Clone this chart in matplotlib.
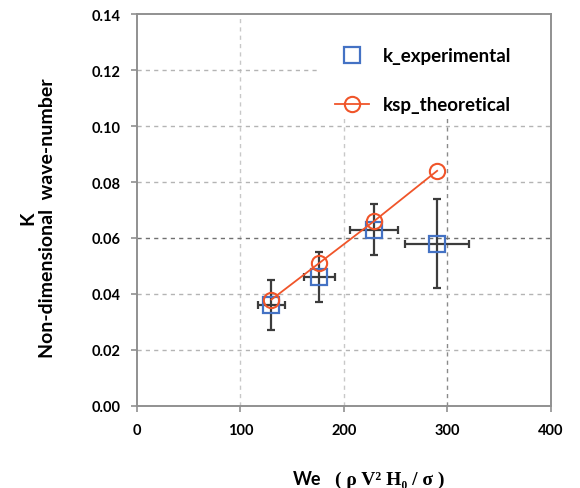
import matplotlib.pyplot as plt
from matplotlib.patches import Rectangle

# data
we_exp = [130, 176, 229, 290]
k_exp = [0.036, 0.046, 0.063, 0.058]
we_err = [13, 15, 23, 31]
k_err = [0.009, 0.009, 0.009, 0.016]

we_th = [130, 176, 229, 290]
ksp_th = [0.038, 0.051, 0.066, 0.084]

x_ticks = [0, 100, 200, 300, 400]
y_ticks = [0.00, 0.02, 0.04, 0.06, 0.08, 0.10, 0.12, 0.14]

plt.rcParams['font.family'] = ['Lato', 'DejaVu Sans']

fig = plt.figure(figsize=(5.8, 4.89), dpi=100)
ax = fig.add_axes([0.236, 0.168, 0.714, 0.801])

blue = '#4472C4'
red = '#F0552A'
grey = '#909090'

# grid
for x in [100, 200]:
    ax.axvline(x, color='#c8c8c8', ls=(0, (3, 3)), lw=1, zorder=0)
ax.axvline(300, color='#8a8a8a', ls=(0, (3, 3)), lw=1, zorder=0)
for y in [0.02, 0.04, 0.08, 0.10, 0.12]:
    ax.axhline(y, color='#b4b4b4', ls=(0, (3, 3)), lw=1, zorder=0)
ax.axhline(0.06, color='#707070', ls=(0, (3, 3)), lw=1, zorder=0)

# white legend area hiding the grid
ax.add_patch(Rectangle((0.442, 0.737), 0.56, 0.27, transform=ax.transAxes,
                       facecolor='white', edgecolor='none', zorder=1))

ax.errorbar(we_exp, k_exp, xerr=we_err, yerr=k_err, fmt='none',
            ecolor='#3c3c3c', elinewidth=1.6, capsize=3, capthick=1.6, zorder=2)
ax.plot(we_exp, k_exp, 's', ms=11, mfc='none', mec=blue, mew=1.6,
        label='k_experimental', zorder=3)
ax.plot(we_th, ksp_th, '-o', color=red, lw=1.3, ms=11, mfc='none', mec=red,
        mew=1.5, label='ksp_theoretical', zorder=4)

ax.set_xlim(0, 400)
ax.set_ylim(0, 0.14)
ax.set_xticks(x_ticks)
ax.set_yticks(y_ticks)
ax.set_yticklabels([f'{v:.2f}' for v in y_ticks])
ax.tick_params(direction='out', length=4, color=grey, width=1.2,
               labelsize=10.5, pad=8)
for lab in ax.get_xticklabels() + ax.get_yticklabels():
    lab.set_fontweight('bold')
for s in ax.spines.values():
    s.set_color(grey)
    s.set_linewidth(1.4)

leg = ax.legend(loc='upper left', bbox_to_anchor=(0.478, 0.915),
                prop={'weight': 'bold', 'size': 13.5}, frameon=False,
                labelspacing=1.7, handlelength=1.8, handletextpad=0.75,
                borderpad=0, borderaxespad=0)
leg.set_zorder(5)

# y label, two lines
fig.text(28 / 580, 0.553, 'K', fontsize=14, fontweight='bold', rotation=90,
         ha='center', va='center')
fig.text(48 / 580, 0.553, 'Non-dimensional  wave-number', fontsize=14,
         fontweight='bold', rotation=90, ha='center', va='center')

# x label
fig.text(293 / 580, 0.009, 'We', fontsize=13, fontweight='bold', ha='left',
         va='baseline')
fig.text(335 / 580, 0.009, '( ρ V² H₀ / σ )', fontsize=14, fontweight='bold',
         family=['Liberation Serif', 'DejaVu Serif'], ha='left', va='baseline')

fig.savefig('out.png', dpi=100)
